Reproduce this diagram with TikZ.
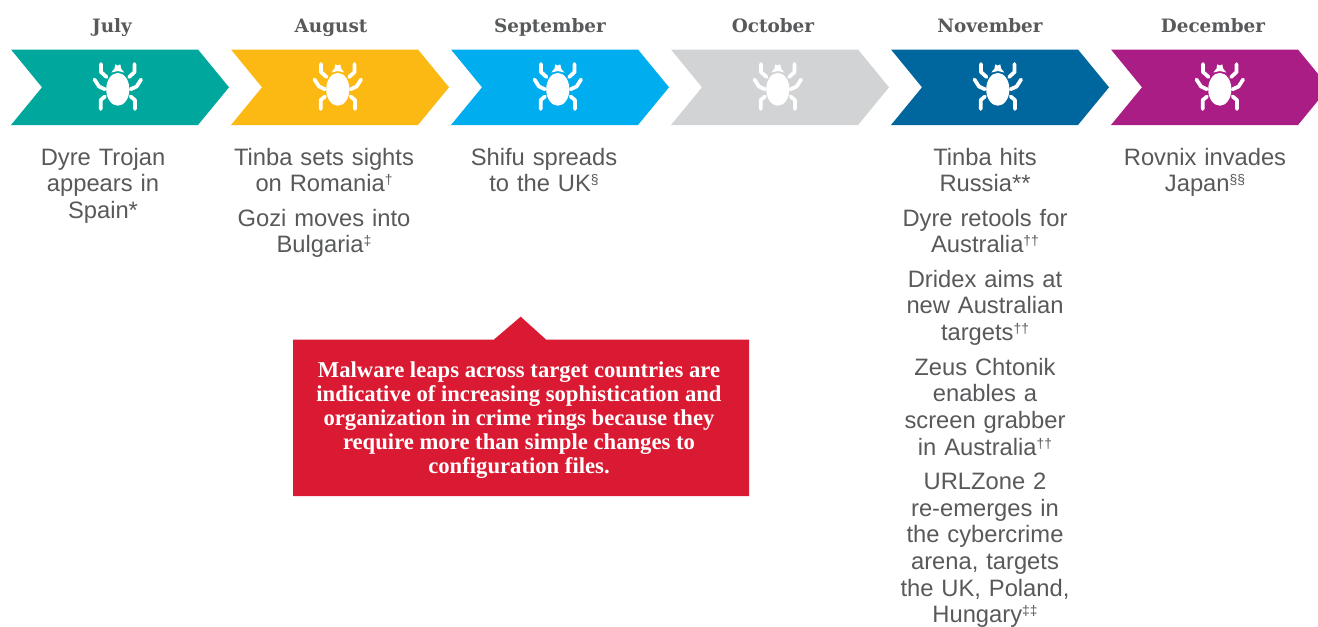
\documentclass[tikz,border=0pt]{standalone}
\usepackage{fontspec}
\setmainfont{Liberation Sans}
\newfontfamily\headfont{DejaVu Serif}
\newfontfamily\calloutfont{Liberation Serif}
\definecolor{txtgray}{HTML}{58595B}
\definecolor{teal1}{HTML}{00A79D}
\definecolor{yellow1}{HTML}{FDB913}
\definecolor{sky1}{HTML}{00AEEF}
\definecolor{gray1}{HTML}{D1D3D4}
\definecolor{navy1}{HTML}{00669E}
\definecolor{magenta1}{HTML}{AA1D85}
\definecolor{red1}{HTML}{DA1A32}
\newcommand{\sups}[1]{\raisebox{5.2pt}{\fontsize{10.4}{12}\selectfont #1}}
\tikzset{
  x=0.75pt,y=-0.75pt,
  month/.style={font=\headfont\fontsize{13.8}{16}\selectfont\bfseries,text=txtgray,inner sep=0pt,anchor=base},
  story/.style={font=\fontsize{17.8}{19.95}\selectfont,text=txtgray,inner sep=0pt,align=center,anchor=north,text width=140pt},
  legline/.style={draw=white,line width=2.8pt,line cap=round,line join=round},
  pics/bug/.style={code={
    \fill[white] (117.8,89.3) ellipse [x radius=11.6,y radius=16.4];
    \fill[white] (111.3,72.5) -- (114.5,68.5) -- (115.3,64.3) -- (117.8,65.6) -- (120.3,64.3) -- (121.1,68.5) -- (124.3,72.5) -- (117.8,71) -- cycle;
    \foreach \s/\c in {1/0,-1/235.6}{
      \begin{scope}[shift={(\c,0)},xscale=\s]
        \draw[legline] (101,64) -- (101,72) -- (106.5,77);
        \draw[legline] (94.5,79.5) -- (99,86.5) -- (105,89.3);
        \draw[legline] (100.7,109) -- (100.7,100) -- (105,96.5);
      \end{scope}
    }
  }}
}
\begin{document}
\begin{tikzpicture}
\useasboundingbox (0,0) rectangle (1318,626);
\fill[white] (0,0) rectangle (1318,626);
\foreach \o/\c in {0/teal1,220/yellow1,440/sky1,660/gray1,880/navy1}{
  \fill[\c] (11+\o,49.5) -- (198+\o,49.5) -- (229+\o,87.3) -- (198+\o,125) -- (11+\o,125) -- (42+\o,87.3) -- cycle;
}
\fill[magenta1] (1111,49.5) -- (1298,49.5) -- (1318,73.9) -- (1318,100.6) -- (1298,125) -- (1111,125) -- (1142,87.3) -- cycle;
\foreach \o in {0,220,440,660,880,1102}{
  \pic at (\o,0) {bug};
}
\node[month] (m1) at (112,32) {July};
\node[month] (m2) at (331,32) {August};
\node[month] (m3) at (550,32) {September};
\node[month] (m4) at (773,32) {October};
\node[month] (m5) at (990,32) {November};
\node[month] (m6) at (1213,32) {December};
\node[story] (s1) at (103,147.8) {Dyre Trojan\\appears in\\Spain*};
\node[story] (s2a) at (324,147.8) {Tinba sets sights\\on Romania\sups{†}};
\node[story] (s2b) at (324,208.8) {Gozi moves into\\Bulgaria\sups{‡}};
\node[story] (s3) at (544,147.8) {Shifu spreads\\to the UK\sups{§}};
\node[story] (s5a) at (985,147.8) {Tinba hits\\Russia**};
\node[story] (s5b) at (985,208.8) {Dyre retools for\\Australia\sups{††}};
\node[story] (s5c) at (985,269.8) {Dridex aims at\\new Australian\\targets\sups{††}};
\node[story] (s5d) at (985,357.8) {Zeus Chtonik\\enables a\\screen grabber\\in Australia\sups{††}};
\node[story] (s5e) at (985,472.8) {URLZone 2\\re-emerges in\\the cybercrime\\arena, targets\\the UK, Poland,\\Hungary\sups{‡‡}};
\node[story] (s6) at (1205,147.8) {Rovnix invades\\Japan\sups{§§}};
\fill[red1] (293,339.5) -- (494,339.5) -- (520.7,316.7) -- (546,339.5) -- (749,339.5) -- (749,496) -- (293,496) -- cycle;
\node[font=\calloutfont\fontsize{17}{18}\selectfont\bfseries,text=white,align=center,inner sep=0pt,anchor=center] (call) at (519,420)
 {Malware leaps across target countries are\\indicative of increasing sophistication and\\organization in crime rings because they\\require more than simple changes to\\configuration files.};
\end{tikzpicture}
\end{document}
